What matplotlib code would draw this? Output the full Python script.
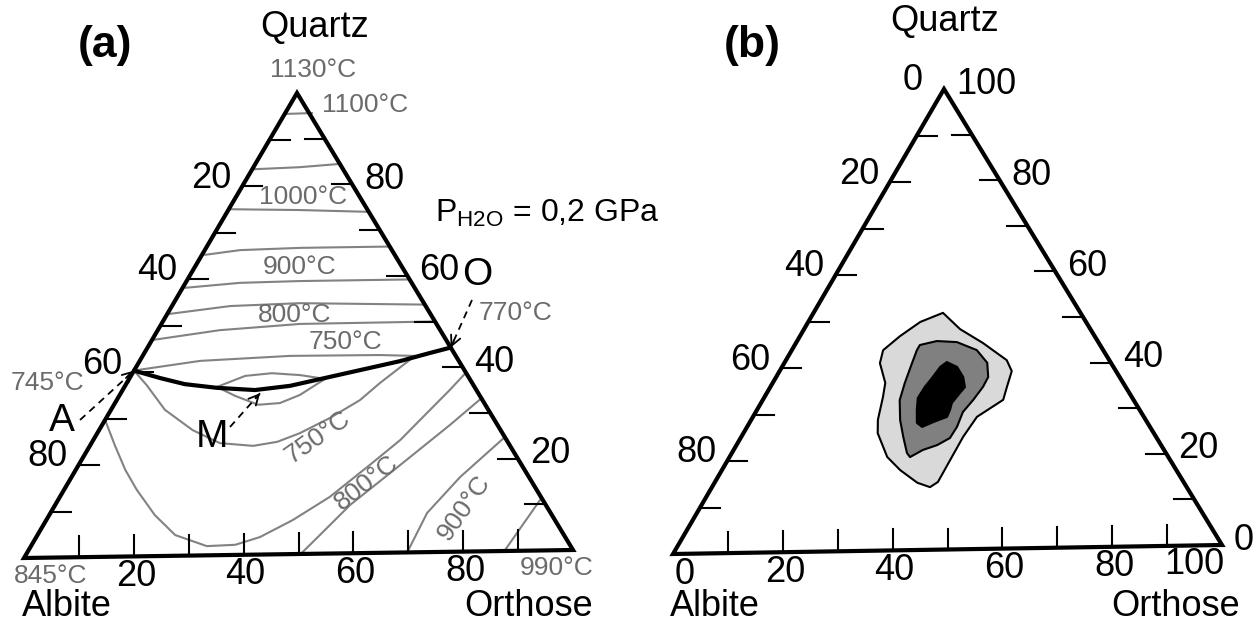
import numpy as np
import matplotlib.pyplot as plt
from matplotlib.patches import Polygon

plt.rcParams['font.family'] = ['Liberation Sans', 'DejaVu Sans']
plt.rcParams['mathtext.default'] = 'regular'

# compositions en % : (Or, Qz) ; Ab = 100 - Or - Qz

# --- (a) isothermes du liquidus, champ du quartz ---
iso_qz1 = [(0.4, 95.5), (4.9, 95.6)]
iso_qz2 = [(0.3, 83.6), (8.5, 83.9), (15.7, 84.5)]
iso_qz3 = [(0.2, 75.0), (13.2, 74.6), (25.9, 74.0)]
iso_qz4 = [(0.6, 65.2), (6.5, 66.1), (17.3, 66.4), (33.4, 66.4)]
iso_qz5 = [(0.5, 58.1), (10.0, 59.0), (20.8, 59.2), (40.8, 59.2)]
iso_qz6 = [(0.5, 52.5), (10.7, 54.0), (23.2, 54.4), (46.3, 53.7)]
iso_qz7 = [(0.2, 46.9), (11.4, 48.8), (25.5, 49.9), (50.0, 50.0)]
iso_qz8 = [(0.5, 40.4), (11.1, 42.2), (27.1, 43.0), (43.5, 42.9), (50.0, 42.6)]

# --- (a) isothermes, champ des feldspaths ---
iso_fs1 = [(0, 40.3), (3.9, 37.1), (9.9, 31.7), (17.2, 27.2), (23.6, 24.3), (30.0, 23.6),
           (34.0, 24.4), (37.2, 26.2), (41.1, 29.4), (44.7, 33.2), (46.5, 36.8), (49.6, 41.9)]
loop_up = [(17.0, 36.5), (21.0, 38.8), (25.6, 39.3), (31.0, 38.8), (36.0, 37.9)]
loop_low = [(17.0, 36.5), (21.3, 34.5), (26.5, 32.5), (30.3, 32.8), (33.1, 34.5), (36.0, 37.9)]
iso_fs2 = [(0, 29.7), (4.5, 24.2), (9.1, 18.8), (13.4, 14.4), (19.4, 8.9), (25.3, 4.5),
           (32.3, 2.0), (37.4, 2.2), (41.1, 3.8), (45.3, 7.4), (49.6, 12.3), (53.5, 19.1),
           (56.4, 24.4), (58.4, 30.2), (60.1, 35.1), (61.2, 38.8)]
iso_fs3 = [(66.8, 33.2), (63.9, 27.5), (59.1, 19.0), (54.2, 10.5), (51.9, 4.1), (50.4, 0)]
iso_fs4 = [(75.3, 24.7), (71.4, 16.2), (69.2, 8.5), (69.8, 0)]
iso_fs5 = [(88.6, 11.4), (87.5, 0)]

cotectic = [(0, 40.3), (5.6, 38.6), (10.8, 37.2), (17.1, 36.3), (24.3, 35.7), (30.3, 36.5),
            (35.9, 38.1), (41.5, 39.7), (47.8, 41.5), (52.5, 43.2), (55.7, 44.3)]
pt_A = (0, 40.3)
pt_M = (25.6, 35.0)
pt_O = (55.7, 44.3)

# --- (b) contours de densite des compositions ---
dens_outer = [(23.8, 51.4), (28.7, 47.8), (34.4, 44.7), (40.6, 40.9), (42.7, 38.5), (43.5, 35.1),
              (44.2, 32.3), (41.2, 28.7), (40.8, 24.4), (40.9, 19.4), (41.0, 14.7), (40.1, 13.6),
              (37.3, 14.6), (32.8, 17.4), (29.0, 20.3), (24.7, 25.5), (23.3, 28.4), (21.8, 33.3),
              (20.7, 36.4), (17.6, 40.7), (16.8, 43.5), (18.4, 46.5), (20.6, 49.5)]
dens_mid = [(23.0, 44.5), (25.7, 45.3), (29.5, 45.0), (34.0, 43.2), (37.3, 40.4), (39.0, 37.3),
            (39.1, 35.2), (38.7, 32.4), (38.1, 29.8), (38.6, 26.6), (38.5, 24.2), (36.9, 22.7),
            (34.8, 21.7), (33.2, 20.2), (32.2, 21.1), (29.8, 24.6), (27.4, 28.3), (25.2, 32.6),
            (24.3, 36.3), (23.5, 40.6), (23.0, 43.4)]
dens_core = [(29.8, 40.7), (32.2, 39.6), (34.4, 37.4), (35.8, 35.2), (35.5, 33.9), (35.1, 31.8),
             (35.5, 30.3), (35.7, 28.8), (33.7, 27.7), (32.2, 26.7), (30.8, 27.6), (29.4, 30.4),
             (28.3, 33.0), (28.4, 35.4), (28.8, 37.5), (29.1, 39.7)]

ticks = list(range(10, 100, 10))
a_left, a_right, a_bottom = [20, 40, 60, 80], [80, 60, 40, 20], [20, 40, 60, 80]
b_left, b_right, b_bottom = [0, 20, 40, 60, 80], [100, 80, 60, 40, 20, 0], [0, 20, 40, 60, 80, 100]

temp_labels = [('1130°C', 313, 70, 0), ('1100°C', 365, 105, 0), ('1000°C', 303, 197, 0),
               ('900°C', 300, 267, 0), ('800°C', 295, 315, 0), ('750°C', 345, 342, 0),
               ('770°C', 515, 313, 0), ('745°C', 47, 383, 0), ('845°C', 51, 576, 0),
               ('990°C', 557, 568, 0), ('750°C', 318, 437, 35), ('800°C', 367, 483, 38),
               ('900°C', 464, 508, 55)]

# sommets des triangles (Albite, Orthose, Quartz) dans le repere de la figure
FRAME_A = ((24, 558), (573, 550), (297, 93))
FRAME_B = ((673, 554), (1222, 545), (944, 89))

TEMP_GREY = '#6b6b6b'
LINE_GREY = '#828282'


def tern(orth, qz, frame):
    a, o, q = (np.array(v, float) for v in frame)
    orth = np.atleast_1d(np.asarray(orth, float)) / 100
    qz = np.atleast_1d(np.asarray(qz, float)) / 100
    p = a + np.outer(orth, o - a) + np.outer(qz, q - a)
    return p[:, 0], p[:, 1]


def curve(pts, frame, **kw):
    orth, qz = zip(*pts)
    x, y = tern(orth, qz, frame)
    ax.plot(x, y, **kw)


def draw_frame(frame, left, right, bottom):
    x, y = tern([0, 100, 0], [0, 0, 100], frame)
    ax.add_patch(Polygon(np.column_stack([x, y]), closed=True, fill=False,
                         edgecolor='k', lw=3, joinstyle='miter', zorder=5))
    for v in ticks:
        lx, ly = tern(0, 100 - v, frame)
        ax.plot([lx[0], lx[0] + 20], [ly[0], ly[0]], color='k', lw=1.5)
        rx, ry = tern(100 - v, v, frame)
        ax.plot([rx[0] - 20, rx[0]], [ry[0], ry[0]], color='k', lw=1.5)
        bx, by = tern(v, 0, frame)
        ax.plot([bx[0], bx[0]], [by[0], by[0] - 21], color='k', lw=1.5)
    for v in left:
        x, y = tern(0, 100 - v, frame)
        ax.text(x[0] - 31, y[0] - 8, str(v), fontsize=26, ha='center', va='center')
    for v in right:
        x, y = tern(100 - v, v, frame)
        ax.text(x[0] + 12, y[0] - 5, str(v), fontsize=26, ha='left', va='center')
    for v in bottom:
        x, y = tern(v, 0, frame)
        ha = 'left' if v == 0 else ('right' if v == 100 else 'center')
        ax.text(x[0] + 2, y[0] + 20, str(v), fontsize=26, ha=ha, va='center')


def dashed_arrow(start, tip_pt, frame):
    tx, ty = tern(*tip_pt, frame)
    tx, ty = tx[0], ty[0]
    ax.plot([start[0], tx], [start[1], ty], color='k', lw=1.3, ls=(0, (4, 3)))
    hx = tx + (start[0] - tx) * 0.15
    hy = ty + (start[1] - ty) * 0.15
    ax.annotate('', xy=(tx, ty), xytext=(hx, hy),
                arrowprops=dict(arrowstyle='->', lw=1.3, color='k',
                                shrinkA=0, shrinkB=0, mutation_scale=18))


fig = plt.figure(figsize=(12.58, 6.28), dpi=100)
ax = fig.add_axes([0, 0, 1, 1])
ax.set_xlim(0, 1258)
ax.set_ylim(628, 0)
ax.axis('off')

# ---------- (a) ----------
for c in [iso_qz1, iso_qz2, iso_qz3, iso_qz4, iso_qz5, iso_qz6, iso_qz7, iso_qz8,
          iso_fs1, loop_up, loop_low, iso_fs2, iso_fs3, iso_fs4, iso_fs5]:
    curve(c, FRAME_A, color=LINE_GREY, lw=1.5)
curve(cotectic, FRAME_A, color='k', lw=3, solid_capstyle='round', zorder=4)

draw_frame(FRAME_A, a_left, a_right, a_bottom)

for txt, x, y, rot in temp_labels:
    ax.text(x, y, txt, fontsize=19, color=TEMP_GREY, ha='center', va='center',
            rotation=rot, rotation_mode='anchor')

ax.text(62, 421, 'A', fontsize=28, ha='center', va='center')
ax.text(212, 437, 'M', fontsize=28, ha='center', va='center')
ax.text(477, 275, 'O', fontsize=28, ha='center', va='center')
dashed_arrow((80, 420), pt_A, FRAME_A)
dashed_arrow((230, 427), pt_M, FRAME_A)
dashed_arrow((472, 300), pt_O, FRAME_A)

ax.text(435, 222, r'P$_{H2O}$ = 0,2 GPa', fontsize=23, ha='left', va='baseline')
ax.text(105, 46, '(a)', fontsize=32, fontweight='bold', ha='center', va='center')
ax.text(315, 28, 'Quartz', fontsize=26, ha='center', va='center')
ax.text(22, 607, 'Albite', fontsize=26, ha='left', va='center')
ax.text(593, 607, 'Orthose', fontsize=26, ha='right', va='center')

# ---------- (b) ----------
for pts, col in [(dens_outer, '#d9d9d9'), (dens_mid, '#808080'), (dens_core, 'k')]:
    orth, qz = zip(*pts)
    x, y = tern(orth, qz, FRAME_B)
    ax.fill(x, y, facecolor=col, edgecolor='k', lw=1.5, joinstyle='round')

draw_frame(FRAME_B, b_left, b_right, b_bottom)

ax.text(752, 46, '(b)', fontsize=32, fontweight='bold', ha='center', va='center')
ax.text(945, 22, 'Quartz', fontsize=26, ha='center', va='center')
ax.text(670, 607, 'Albite', fontsize=26, ha='left', va='center')
ax.text(1240, 607, 'Orthose', fontsize=26, ha='right', va='center')

fig.savefig('out.png', dpi=100)
